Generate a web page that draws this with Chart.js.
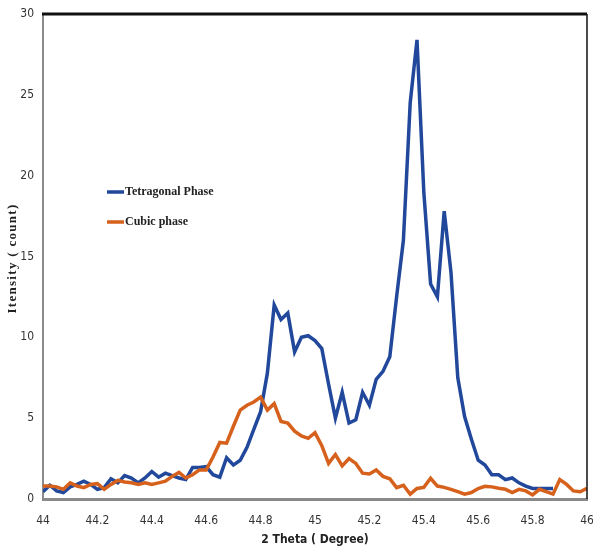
<!DOCTYPE html>
<html>
<head>
<meta charset="utf-8">
<script src="https://cdn.jsdelivr.net/npm/chart.js@4.4.0/dist/chart.umd.min.js"></script>
<style>
  body { margin: 0; background: #fff; }
  #wrap { width: 593px; height: 547px; }
</style>
</head>
<body>
<div id="wrap"><canvas id="chartCanvas" width="593" height="547"></canvas></div>
<script>
// 2 theta positions (degree)
const theta = [
  44.000, 44.025, 44.050, 44.075, 44.100, 44.125, 44.150, 44.175, 44.200, 44.225,
  44.250, 44.275, 44.300, 44.325, 44.350, 44.375, 44.400, 44.425, 44.450, 44.475,
  44.500, 44.525, 44.550, 44.575, 44.600, 44.625, 44.650, 44.675, 44.700, 44.725,
  44.750, 44.775, 44.800, 44.825, 44.850, 44.875, 44.900, 44.925, 44.950, 44.975,
  45.000, 45.025, 45.050, 45.075, 45.100, 45.125, 45.150, 45.175, 45.200, 45.225,
  45.250, 45.275, 45.300, 45.325, 45.350, 45.375, 45.400, 45.425, 45.450, 45.475,
  45.500, 45.525, 45.550, 45.575, 45.600, 45.625, 45.650, 45.675, 45.700, 45.725,
  45.750, 45.775, 45.800, 45.825, 45.850, 45.875, 45.900, 45.925, 45.950, 45.975,
  46.000
];

const tetragonal = [
  0.45, 0.85, 0.5, 0.4, 0.75, 0.9, 1.1, 0.9, 0.6, 0.7,
  1.25, 1.0, 1.45, 1.3, 1.0, 1.3, 1.7, 1.35, 1.6, 1.45,
  1.3, 1.2, 1.95, 1.95, 2.0, 1.5, 1.35, 2.55, 2.1, 2.4,
  3.2, 4.3, 5.4, 7.8, 12.0, 11.1, 11.5, 9.1, 10.0, 10.1,
  9.8, 9.3, 7.1, 5.0, 6.6, 4.7, 4.9, 6.6, 5.8, 7.4,
  7.9, 8.8, 12.5, 16.0, 24.5, 28.4, 19.0, 13.3, 12.5, 17.8,
  14.0, 7.5, 5.1, 3.7, 2.4, 2.1, 1.5, 1.5, 1.2, 1.3,
  1.0, 0.8, 0.65, 0.65, 0.65, 0.65, null, null, null, null,
  null
];

const cubic = [
  0.8, 0.8, 0.75, 0.6, 1.0, 0.8, 0.7, 0.9, 0.95, 0.6,
  0.9, 1.15, 1.05, 1.0, 0.9, 1.0, 0.9, 1.0, 1.1, 1.4,
  1.65, 1.3, 1.5, 1.8, 1.8, 2.6, 3.5, 3.45, 4.5, 5.5,
  5.8, 6.0, 6.3, 5.5, 5.9, 4.8, 4.7, 4.2, 3.9, 3.75,
  4.1, 3.3, 2.2, 2.75, 2.05, 2.5, 2.2, 1.6, 1.55, 1.8,
  1.4, 1.25, 0.7, 0.85, 0.3, 0.65, 0.72, 1.28, 0.8, 0.72,
  0.6, 0.45, 0.3, 0.4, 0.65, 0.78, 0.75, 0.66, 0.6, 0.4,
  0.6, 0.5, 0.25, 0.6, 0.45, 0.3, 1.2, 0.9, 0.5, 0.45,
  0.66
];

const seriesNames = ['Tetragonal Phase', 'Cubic phase'];
const seriesColors = ['#21489a', '#d6611d'];
const yTitle = 'Itensity ( count)';

// legend drawn inside the plot area, like the original
const insideLegend = {
  id: 'insideLegend',
  afterDraw(chart) {
    const ctx = chart.ctx;
    const a = chart.chartArea;
    ctx.save();
    ctx.font = 'bold 12px "Liberation Serif", "DejaVu Serif", serif';
    ctx.textBaseline = 'middle';
    seriesNames.forEach((name, i) => {
      const y = a.top + 178 + i * 30;
      const x = a.left + 64;
      ctx.strokeStyle = seriesColors[i];
      ctx.lineWidth = 3.5;
      ctx.beginPath();
      ctx.moveTo(x, y);
      ctx.lineTo(x + 17, y);
      ctx.stroke();
      ctx.fillStyle = '#222';
      ctx.fillText(name, x + 18, y);
    });
    ctx.restore();
  }
};

// dark frame line on top and right of plot, spaced-out y title
const frame = {
  id: 'frame',
  afterDraw(chart) {
    const ctx = chart.ctx;
    const a = chart.chartArea;
    ctx.save();
    ctx.strokeStyle = '#111';
    ctx.lineWidth = 3;
    ctx.beginPath();
    ctx.moveTo(a.left - 1, a.top);
    ctx.lineTo(a.right, a.top);
    ctx.stroke();
    ctx.lineWidth = 1.5;
    ctx.beginPath();
    ctx.moveTo(a.right, a.top);
    ctx.lineTo(a.right, a.bottom);
    ctx.stroke();

    ctx.translate(13, (a.top + a.bottom) / 2 + 2);
    ctx.rotate(-Math.PI / 2);
    ctx.font = 'bold 13px "Liberation Serif", "DejaVu Serif", serif';
    if ('letterSpacing' in ctx) ctx.letterSpacing = '1.3px';
    ctx.fillStyle = '#222';
    ctx.textAlign = 'center';
    ctx.textBaseline = 'middle';
    ctx.fillText(yTitle, 0, 0);
    ctx.restore();
  }
};

const narrow = '"DejaVu Sans Condensed", "Liberation Sans Narrow", "Liberation Sans", Arial, sans-serif';
const tickFont = { family: narrow, size: 12 };

window.myChart = new Chart(document.getElementById('chartCanvas'), {
  type: 'line',
  data: {
    datasets: [{
      label: seriesNames[0],
      data: theta.map((t, i) => ({ x: t, y: tetragonal[i] })),
      borderColor: seriesColors[0],
      borderWidth: 3.5,
      pointRadius: 0,
      tension: 0,
      order: 2
    }, {
      label: seriesNames[1],
      data: theta.map((t, i) => ({ x: t, y: cubic[i] })),
      borderColor: seriesColors[1],
      borderWidth: 3.5,
      pointRadius: 0,
      tension: 0,
      order: 1
    }]
  },
  options: {
    responsive: false,
    animation: false,
    layout: { padding: { top: 14, right: 6, left: 0, bottom: 0 } },
    plugins: {
      legend: { display: false },
      tooltip: { enabled: false }
    },
    scales: {
      x: {
        type: 'linear',
        min: 44,
        max: 46,
        ticks: {
          stepSize: 0.2,
          color: '#333',
          font: tickFont,
          padding: 15,
          callback: v => Math.round(v * 10) / 10
        },
        grid: { display: false, drawTicks: false },
        border: { color: '#8a8a8a', width: 3 },
        title: {
          display: true,
          text: '2 Theta ( Degree)',
          color: '#222',
          font: { family: narrow, size: 12, weight: 'bold' },
          padding: { top: 0, bottom: 0 }
        },
        afterFit: s => { s.height = 48; s.paddingLeft = 0; s.paddingRight = 0; }
      },
      y: {
        min: 0,
        max: 30,
        ticks: {
          stepSize: 5,
          color: '#333',
          font: tickFont,
          padding: 9
        },
        grid: { display: false, drawTicks: false },
        border: { color: '#8a8a8a', width: 2 },
        title: { display: false },
        afterFit: s => { s.width = 43; s.paddingTop = 0; s.paddingBottom = 0; }
      }
    }
  },
  plugins: [insideLegend, frame]
});
</script>
</body>
</html>
